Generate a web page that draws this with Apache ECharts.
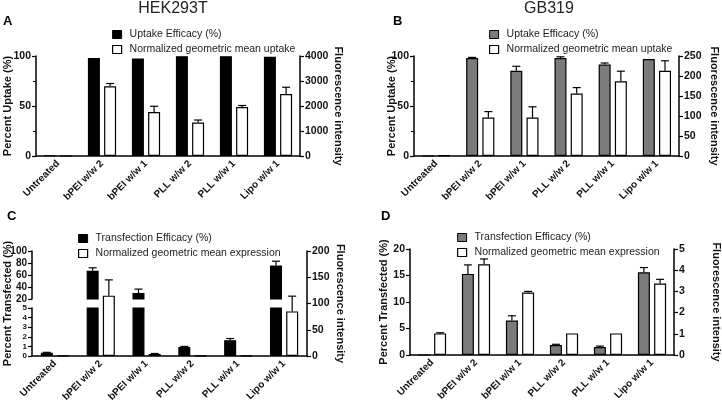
<!DOCTYPE html>
<html>
<head>
<meta charset="utf-8">
<script src="https://cdn.jsdelivr.net/npm/echarts@6/dist/echarts.min.js"></script>
<style>html,body{margin:0;padding:0;background:#fff}#c{width:722px;height:406px}</style>
</head>
<body>
<div id="c"></div>
<script>
// ---------- data ----------
const categories = ['Untreated', 'bPEI w/w 2', 'bPEI w/w 1', 'PLL w/w 2', 'PLL w/w 1', 'Lipo w/w 1'];

// Panel A (HEK293T uptake)
const uptakeA    = [0.5, 98, 97.5, 99.8, 99.8, 99.2];
const uptakeAErr = [0, 0, 0, 0, 0, 0];
const fluorA     = [0, 2790, 1760, 1340, 1960, 2480];
const fluorAErr  = [0, 110, 230, 100, 60, 270];

// Panel B (GB319 uptake)
const uptakeB    = [0, 98, 85.2, 98, 91.4, 96.9];
const uptakeBErr = [0, 0.6, 4.5, 1.2, 1.6, 0];
const fluorB     = [1.5, 96, 96, 156, 187, 213];
const fluorBErr  = [0, 15, 27, 15, 25, 25];

// Panel C (HEK293T transfection)
const transC     = [0.35, 67, 30, 0.95, 1.65, 76];
const transCErr  = [0.03, 5, 6.5, 0.05, 0.17, 7];
const exprC      = [0.5, 115, 3.8, 0.5, 0.5, 85];
const exprCErr   = [0, 30, 1, 0, 0, 29];

// Panel D (GB319 transfection)
const transD     = [0, 15.3, 6.5, 1.9, 1.5, 15.6];
const transDErr  = [0, 1.7, 0.9, 0.12, 0.18, 0.9];
const exprD      = [1.02, 4.28, 2.95, 1.02, 1.02, 3.37];
const exprDErr   = [0.03, 0.25, 0.05, 0, 0, 0.2];

// ---------- styling helpers ----------
const FONT = '"Liberation Sans", Arial, sans-serif';
const BAR_W = 12, GAP = 0.35;
const OFF = BAR_W * (1 + GAP) / 2;
const GRAY = '#7b7b7b';

function bar(name, xi, yi, data, color) {
  return {
    type: 'bar', name, xAxisIndex: xi, yAxisIndex: yi, data,
    barWidth: BAR_W, barGap: (GAP * 100) + '%',
    itemStyle: { color, borderColor: '#000', borderWidth: 1.2 },
    z: 3, silent: true
  };
}
function errSeries(xi, yi, vals, errs, side, filter) {
  const data = [];
  vals.forEach((v, i) => { if (errs[i] > 0 && (!filter || filter(v))) data.push([i, v, errs[i]]); });
  return {
    type: 'custom', xAxisIndex: xi, yAxisIndex: yi, z: 5, silent: true, clip: false,
    encode: { x: 0, y: 1 }, data,
    renderItem(params, api) {
      const i = api.value(0), v = api.value(1), e = api.value(2);
      const p0 = api.coord([i, v]), p1 = api.coord([i, v + e]);
      const x = p0[0] + side * OFF;
      const st = { stroke: '#000', lineWidth: 1.2 };
      return { type: 'group', children: [
        { type: 'line', shape: { x1: x, y1: p0[1], x2: x, y2: p1[1] }, style: st },
        { type: 'line', shape: { x1: x - 4, y1: p1[1], x2: x + 4, y2: p1[1] }, style: st }
      ]};
    }
  };
}
function catAxis(gi, show) {
  return {
    type: 'category', gridIndex: gi, data: categories, show: show !== false,
    boundaryGap: true,
    axisLine: { lineStyle: { color: '#000', width: 1.5 } },
    axisTick: { alignWithLabel: true, length: 4, lineStyle: { color: '#000', width: 1.2 } },
    axisLabel: { rotate: 45, interval: 0, margin: 6, fontSize: 10, fontWeight: 'bold', color: '#111', fontFamily: FONT }
  };
}
function valAxis(gi, pos, min, max, interval, name, gap, minor, labelSize) {
  return {
    type: 'value', gridIndex: gi, position: pos, min, max, interval,
    name, nameLocation: 'middle', nameRotate: pos === 'left' ? 90 : -90, nameGap: gap,
    nameMoveOverlap: false,
    nameTextStyle: { fontSize: 11, fontWeight: 'bold', color: '#111', fontFamily: FONT },
    axisLine: { show: true, lineStyle: { color: '#000', width: 1.5 } },
    axisTick: { show: true, length: 4, lineStyle: { color: '#000', width: 1.2 } },
    minorTick: { show: !!minor, splitNumber: 2, length: 3, lineStyle: { color: '#000', width: 1 } },
    splitLine: { show: false },
    axisLabel: { fontSize: labelSize || 10.5, lineHeight: labelSize ? labelSize : undefined,
      fontWeight: 'bold', color: '#111', margin: 5, fontFamily: FONT,
      showMinLabel: true, showMaxLabel: true, hideOverlap: false,
      formatter: v => String(v) }
  };
}
function legend(left, top, n1, c1, n2) {
  return {
    left, top, orient: 'vertical', icon: 'rect', itemWidth: 9, itemHeight: 8, itemGap: 4,
    selectedMode: false,
    textStyle: { fontSize: 10.5, color: '#222', fontFamily: FONT, padding: [0, 0, 0, 3] },
    data: [
      { name: n1, itemStyle: { color: c1, borderColor: '#000', borderWidth: 1 } },
      { name: n2, itemStyle: { color: '#fff', borderColor: '#000', borderWidth: 1.2 } }
    ]
  };
}

const UPT = 'Uptake Efficacy (%)', NUP = 'Normalized geometric mean uptake';
const TRF = 'Transfection Efficacy (%)', NEX = 'Normalized geometric mean expression';
const blank = categories.map(() => '-');

const option = {
  animation: false,
  textStyle: { fontFamily: FONT },
  title: [
    { text: 'HEK293T', left: 173, top: 1, textAlign: 'center', padding: 0, textStyle: { fontSize: 16, fontWeight: 'normal', color: '#222', fontFamily: FONT } },
    { text: 'GB319', left: 549, top: 1, textAlign: 'center', padding: 0, textStyle: { fontSize: 16, fontWeight: 'normal', color: '#222', fontFamily: FONT } },
    { text: 'A', left: 3, top: 15, padding: 0, textStyle: { fontSize: 13, fontWeight: 'bold', color: '#000', fontFamily: FONT } },
    { text: 'B', left: 393, top: 15, padding: 0, textStyle: { fontSize: 13, fontWeight: 'bold', color: '#000', fontFamily: FONT } },
    { text: 'C', left: 7, top: 210, padding: 0, textStyle: { fontSize: 13, fontWeight: 'bold', color: '#000', fontFamily: FONT } },
    { text: 'D', left: 381, top: 210, padding: 0, textStyle: { fontSize: 13, fontWeight: 'bold', color: '#000', fontFamily: FONT } }
  ],
  legend: [
    legend(107, 24, UPT, '#000', NUP),
    legend(484, 24, UPT, GRAY, NUP),
    legend(73, 228, TRF, '#000', NEX),
    legend(452, 227, TRF, GRAY, NEX)
  ],
  grid: [
    { left: 36, top: 56, width: 264, height: 100, outerBoundsMode: 'none' },
    { left: 414, top: 56, width: 265, height: 100, outerBoundsMode: 'none' },
    { left: 32, top: 251, width: 275, height: 105, outerBoundsMode: 'none' },
    { left: 32, top: 251, width: 275, height: 48, outerBoundsMode: 'none' },
    { left: 32, top: 308, width: 275, height: 48, outerBoundsMode: 'none' },
    { left: 410, top: 249, width: 264, height: 106, outerBoundsMode: 'none' }
  ],
  xAxis: [catAxis(0), catAxis(1), catAxis(2), catAxis(3, false), catAxis(4, false), catAxis(5)],
  yAxis: [
    valAxis(0, 'left', 0, 100, 50, 'Percent Uptake (%)', 23, true),
    valAxis(0, 'right', 0, 4000, 1000, 'Fluorescence intensity', 33),
    valAxis(1, 'left', 0, 100, 50, 'Percent Uptake (%)', 17, true),
    valAxis(1, 'right', 0, 250, 50, 'Fluorescence intensity', 30),
    Object.assign(valAxis(2, 'left', 0, 1, 1, 'Percent Transfected (%)', 19), {
      axisLine: { show: false }, axisTick: { show: false }, axisLabel: { show: false } }),
    valAxis(2, 'right', 0, 200, 50, 'Fluorescence intensity', 28),
    valAxis(3, 'left', 20, 100, 20, '', 0, false, 10),
    valAxis(4, 'left', 0, 5, 1, '', 0, false, 8),
    valAxis(5, 'left', 0, 20, 5, 'Percent Transfected (%)', 21),
    valAxis(5, 'right', 0, 5, 1, 'Fluorescence intensity', 37)
  ],
  series: [
    // A
    bar(UPT, 0, 0, uptakeA, '#000'),
    bar(NUP, 0, 1, fluorA, '#fff'),
    errSeries(0, 0, uptakeA, uptakeAErr, -1),
    errSeries(0, 1, fluorA, fluorAErr, 1),
    // B
    bar(UPT, 1, 2, uptakeB, GRAY),
    bar(NUP, 1, 3, fluorB, '#fff'),
    errSeries(1, 2, uptakeB, uptakeBErr, -1),
    errSeries(1, 3, fluorB, fluorBErr, 1),
    // C full height (right axis)
    bar('pad1', 2, 4, blank, '#000'),
    bar(NEX, 2, 5, exprC, '#fff'),
    errSeries(2, 5, exprC, exprCErr, 1),
    // C top segment
    bar(TRF, 3, 6, transC.map(v => v >= 20 ? v : '-'), '#000'),
    bar('pad2', 3, 6, blank, '#fff'),
    errSeries(3, 6, transC, transCErr, -1, v => v >= 20),
    // C bottom segment
    bar(TRF, 4, 7, transC, '#000'),
    bar('pad3', 4, 7, blank, '#fff'),
    errSeries(4, 7, transC, transCErr, -1, v => v < 5),
    // D
    bar(TRF, 5, 8, transD, GRAY),
    bar(NEX, 5, 9, exprD, '#fff'),
    errSeries(5, 8, transD, transDErr, -1),
    errSeries(5, 9, exprD, exprDErr, 1)
  ]
};

const chart = echarts.init(document.getElementById('c'), null, { renderer: 'canvas' });
chart.setOption(option);
</script>
</body>
</html>
